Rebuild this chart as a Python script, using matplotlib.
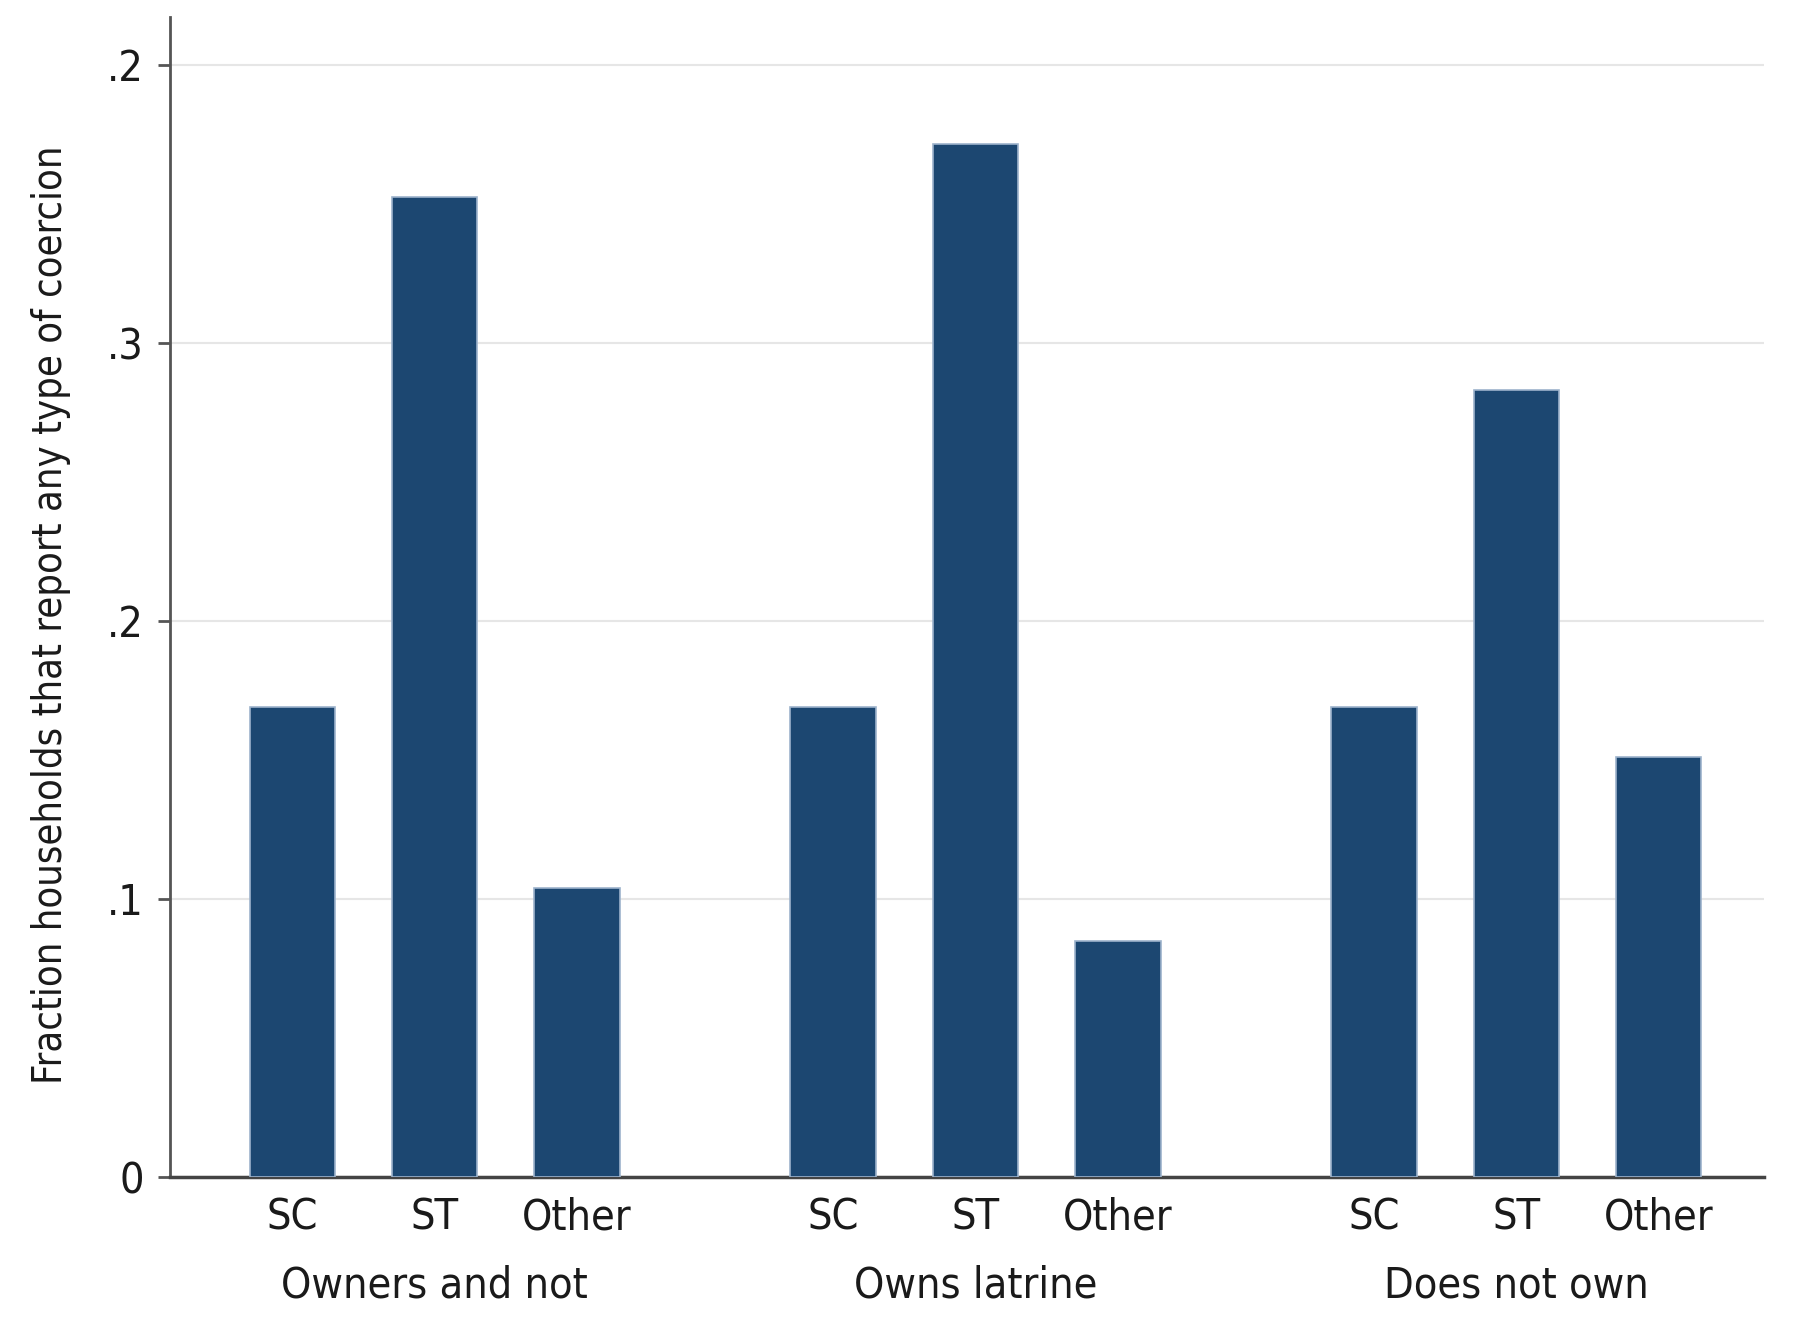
import numpy as np
import matplotlib
matplotlib.use('Agg')
import matplotlib.pyplot as plt

plt.rcParams['font.family'] = ['Liberation Sans Narrow', 'DejaVu Sans']
plt.rcParams['font.stretch'] = 'condensed'

# data
groups = ['Owners and not', 'Owns latrine', 'Does not own']
castes = ['SC', 'ST', 'Other']
owners_and_not = [0.169, 0.3525, 0.104]
owns_latrine = [0.169, 0.3715, 0.085]
does_not_own = [0.169, 0.283, 0.151]
ytick_vals = [0, 0.1, 0.2, 0.3, 0.4]
ytick_labels = ['0', '.1', '.2', '.3', '.2']

values = [owners_and_not, owns_latrine, does_not_own]
group_step = 3.8

fig = plt.figure(figsize=(18, 13.37), dpi=100)
ax = fig.add_axes([0.0944, 0.1197, 0.8856, 0.8673])

bar_color = '#1c4771'
pos_all = []
lab_all = []
for g, vals in enumerate(values):
    pos = np.arange(len(castes)) + g * group_step
    ax.bar(pos, vals, width=0.6, color=bar_color, edgecolor='#9db3cc', linewidth=1.2, zorder=3)
    pos_all.extend(pos)
    lab_all.extend(castes)
    # group name under the caste labels
    ax.text(pos.mean(), -0.094, groups[g], ha='center', va='center', fontsize=31,
            color='#1a1a1a', transform=ax.get_xaxis_transform(), clip_on=False)

ax.set_xlim(-0.86, 10.34)
ax.set_ylim(0, 0.417)
ax.set_xticks(pos_all)
ax.set_xticklabels(lab_all, fontsize=31, color='#1a1a1a')
ax.tick_params(axis='x', length=0, pad=14)
ax.set_yticks(ytick_vals)
ax.set_yticklabels(ytick_labels, fontsize=31, color='#1a1a1a')
ax.tick_params(axis='y', length=9, width=2, color='#555555', pad=10)

ax.grid(axis='y', color='#e6e6e6', linewidth=1.5, zorder=0)
for s in ['top', 'right']:
    ax.spines[s].set_visible(False)
ax.spines['left'].set_color('#555555')
ax.spines['left'].set_linewidth(2)
ax.spines['bottom'].set_color('#444444')
ax.spines['bottom'].set_linewidth(2.5)

ax.set_ylabel('Fraction households that report any type of coercion', fontsize=28.5,
              color='#1a1a1a')
ax.yaxis.set_label_coords(-0.062, 0.485)

fig.savefig('out.png', dpi=100, facecolor='white')
